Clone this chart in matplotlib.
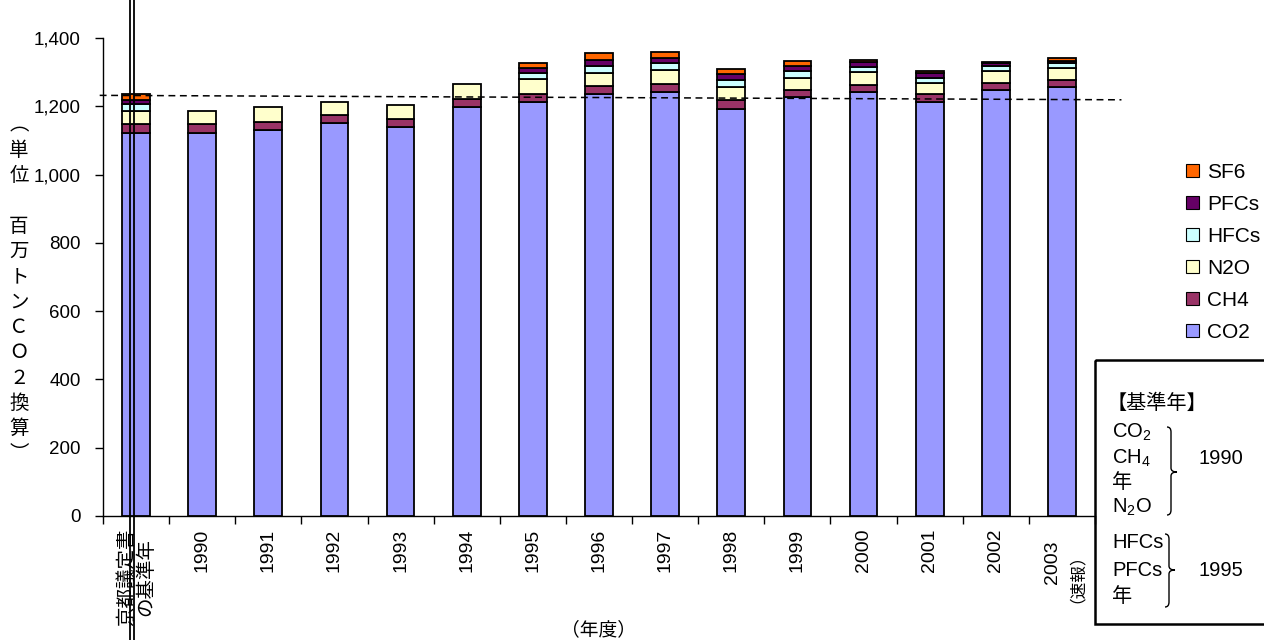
import matplotlib
matplotlib.use("Agg")
import matplotlib.pyplot as plt
import numpy as np
from matplotlib.lines import Line2D
from matplotlib.patches import Rectangle, PathPatch, Patch
from matplotlib.path import Path
from matplotlib.transforms import Affine2D
from matplotlib.ticker import FuncFormatter, FixedLocator

plt.rcParams['font.family'] = ['Liberation Sans', 'Noto Sans CJK JP', 'DejaVu Sans']
plt.rcParams['mathtext.fontset'] = 'custom'
plt.rcParams['mathtext.rm'] = 'Liberation Sans'
plt.rcParams['mathtext.it'] = 'Liberation Sans'

# ---------------- data ----------------
categories = ["京都議定書\nの基準年", "1990", "1991", "1992", "1993", "1994", "1995",
              "1996", "1997", "1998", "1999", "2000", "2001", "2002", "2003\n（速報）"]
co2 = [1122, 1122, 1131, 1150, 1138, 1197, 1213, 1237, 1241, 1193, 1228, 1241, 1212, 1248, 1256]
ch4 = [25, 25, 24, 24, 24, 23, 24, 21, 23, 25, 21, 20, 23, 21, 21]
n2o = [40, 40, 43, 39, 41, 44, 42, 40, 43, 39, 35, 39, 33, 34, 34]
hfcs = [20, 0, 0, 0, 0, 0, 19, 21, 19, 19, 18, 14, 16, 14, 16]
pfcs = [12, 0, 0, 0, 0, 0, 13, 17, 16, 19, 17, 16, 14, 10, 5]
sf6 = [18, 0, 0, 0, 0, 0, 15, 19, 16, 13, 13, 6, 5, 4, 8]
series_names = ["CO2", "CH4", "N2O", "HFCs", "PFCs", "SF6"]
series_colors = ["#9999FF", "#993366", "#FFFFCC", "#CCFFFF", "#660066", "#FF6600"]
yticks = [0, 200, 400, 600, 800, 1000, 1200, 1400]
ylabel_chars = ["︵", "単", "位", "　", "百", "万", "ト", "ン", "Ｃ", "Ｏ", "２", "換", "算", "︶"]
xlabel = "（年度）"

W, H = 1264, 640
fig = plt.figure(figsize=(W / 100, H / 100), dpi=100)
fx = lambda px: px / W
fy = lambda py: 1 - py / H
ax = fig.add_axes([fx(103), fy(516), fx(1095) - fx(103), fy(38) - fy(516)])

series = [co2, ch4, n2o, hfcs, pfcs, sf6]
x = np.arange(len(categories))
bottom = np.zeros(len(categories))
handles = []
for vals, name, col in zip(series, series_names, series_colors):
    v = np.array(vals, dtype=float)
    mask = v > 0
    ax.bar(x[mask], v[mask], bottom=bottom[mask], width=0.42, color=col,
           edgecolor="black", linewidth=1.3, zorder=3)
    bottom += v
    handles.append(Patch(facecolor=col, edgecolor="black", linewidth=0.8, label=name))

ax.set_xlim(-0.5, len(categories) - 0.5)
ax.set_ylim(0, 1400)
ax.set_yticks(yticks)
ax.yaxis.set_major_formatter(FuncFormatter(lambda v, p: f"{int(v):,}"))
for s in ["top", "right"]:
    ax.spines[s].set_visible(False)
for s in ["left", "bottom"]:
    ax.spines[s].set_linewidth(1.0)
ax.tick_params(axis="y", direction="out", length=6, width=1.0, pad=10, labelsize=13.5)

ax.set_xticks(x)
labels = list(categories)
labels[-1] = ""
ax.set_xticklabels(labels, rotation=90, fontsize=14, multialignment="center", linespacing=1.1)
ax.tick_params(axis="x", which="major", length=0, pad=9)
ax.xaxis.set_minor_locator(FixedLocator(np.arange(-0.5, len(categories), 1.0)))
ax.tick_params(axis="x", which="minor", direction="out", length=6, width=1.0)

# last label: year + smaller note
yr, note = categories[-1].split("\n")
ax.annotate(yr, xy=(x[-1], 0), xycoords="data", xytext=(-7, -18), textcoords="offset points",
            rotation=90, ha="center", va="top", fontsize=14, annotation_clip=False)
ax.annotate(note, xy=(x[-1], 0), xycoords="data", xytext=(4, -15), textcoords="offset points",
            rotation=90, ha="center", va="top", fontsize=12, annotation_clip=False)

# dashed reference line at base-year total
base_total = bottom[0]
ax.plot([-0.55, 14.9], [base_total - 5, base_total - 18], ls=(0, (4.5, 3)), color="black",
        lw=1.1, clip_on=False, zorder=4)

# y label (vertical stacked characters)
for i, ch in enumerate(ylabel_chars):
    fig.text(fx(19), fy(125 + i * 25.3), ch, ha="center", va="center", fontsize=14,
             family=["Noto Sans CJK JP", "DejaVu Sans"])

fig.text(fx(598), fy(630), xlabel, ha="center", va="center", fontsize=13.5,
         family=["Noto Sans CJK JP", "DejaVu Sans"])

# legend
leg = fig.legend(handles=handles[::-1], loc="center left",
                 bbox_to_anchor=(fx(1186), fy(252.5)), frameon=False, fontsize=15,
                 handlelength=0.6, handleheight=0.6, handletextpad=0.4,
                 labelspacing=0.62, borderpad=0, borderaxespad=0)

# double vertical line
for px in (130.2, 133.6):
    fig.add_artist(Line2D([fx(px), fx(px)], [0, 1], color="black", lw=1.3,
                          transform=fig.transFigure))

# base-year box
pix = Affine2D().scale(1 / W, -1 / H).translate(0, 1) + fig.transFigure
fig.add_artist(Rectangle((1095, 360), 200, 264, fill=False, edgecolor="black",
                         lw=1.8, transform=pix, clip_on=False))
box_texts = [("【基準年】", 1107, 403), ("CO$_2$", 1112, 432), ("CH$_4$", 1112, 458),
             ("年", 1112, 482), ("N$_2$O", 1112, 507), ("HFCs", 1112, 543),
             ("PFCs", 1112, 571), ("年", 1112, 597), ("1990", 1199, 458), ("1995", 1199, 571)]
for t, px, py in box_texts:
    fig.text(fx(px), fy(py), t, ha="left", va="center", fontsize=14.5)


def brace(xs, y0, y1, ym, tip):
    verts = [(xs - 4, y0), (xs, y0), (xs, y0 + 5), (xs, ym - 4), (xs, ym), (tip, ym),
             (xs, ym), (xs, ym + 4), (xs, y1 - 5), (xs, y1), (xs - 4, y1)]
    codes = [Path.MOVETO, Path.CURVE3, Path.CURVE3, Path.LINETO, Path.CURVE3, Path.CURVE3,
             Path.CURVE3, Path.CURVE3, Path.LINETO, Path.CURVE3, Path.CURVE3]
    fig.add_artist(PathPatch(Path(verts, codes), fill=False, edgecolor="black", lw=1.0,
                             transform=pix))


brace(1171, 427, 515, 472, 1177)
brace(1169, 534, 607, 570, 1175)

fig.savefig("out.png", dpi=100)
